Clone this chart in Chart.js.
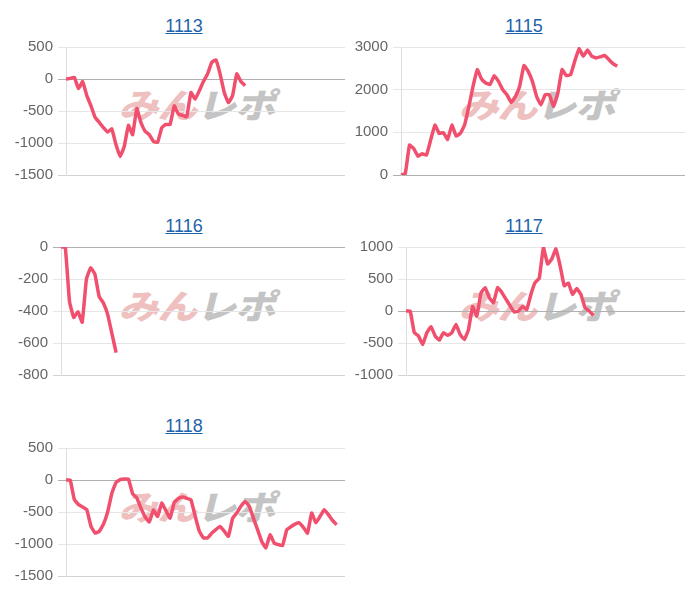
<!DOCTYPE html>
<html>
<head>
<meta charset="utf-8">
<script src="https://cdn.jsdelivr.net/npm/chart.js@4/dist/chart.umd.min.js"></script>
<style>
  html, body { margin: 0; padding: 0; background: #fff; }
  body { width: 700px; height: 600px; position: relative; overflow: hidden; font-family: "Liberation Sans", Arial, sans-serif; }
  .title { position: absolute; width: 200px; margin-left: -100px; text-align: center; font-size: 18px; line-height: 20px; }
  .title a { color: #1e64aa; text-decoration: underline; }
  .wm { position: absolute; white-space: nowrap; font-family: "Noto Sans CJK JP", sans-serif; font-weight: 900; font-size: 34px; line-height: 34px; transform: translate(-50%, -50%) skewX(-14deg) scaleX(1.18); letter-spacing: -1px; z-index: 0; }
  .wm .p { color: #efc0c0; }
  .wm .g { color: #c4c4c4; }
  canvas { position: absolute; z-index: 1; }
</style>
</head>
<body>
<div class="title" style="left:184px; top:16px;"><a href="#">1113</a></div>
<div class="title" style="left:524px; top:16px;"><a href="#">1115</a></div>
<div class="title" style="left:184px; top:216px;"><a href="#">1116</a></div>
<div class="title" style="left:524px; top:216px;"><a href="#">1117</a></div>
<div class="title" style="left:184px; top:416px;"><a href="#">1118</a></div>

<div class="wm" style="left:200px; top:104px;"><span class="p">みん</span><span class="g">レポ</span></div>
<div class="wm" style="left:540px; top:104px;"><span class="p">みん</span><span class="g">レポ</span></div>
<div class="wm" style="left:200px; top:305px;"><span class="p">みん</span><span class="g">レポ</span></div>
<div class="wm" style="left:540px; top:305px;"><span class="p">みん</span><span class="g">レポ</span></div>
<div class="wm" style="left:200px; top:506px;"><span class="p">みん</span><span class="g">レポ</span></div>

<canvas id="c1113" width="345" height="156" style="left:0px; top:37px;"></canvas>
<canvas id="c1115" width="335" height="156" style="left:350px; top:37px;"></canvas>
<canvas id="c1116" width="345" height="156" style="left:0px; top:237px;"></canvas>
<canvas id="c1117" width="335" height="156" style="left:350px; top:237px;"></canvas>
<canvas id="c1118" width="345" height="156" style="left:0px; top:438px;"></canvas>

<script>
// ---- data ----
const xLabels = [1,2,3,4,5,6,7,8,9,10,11,12,13,14,15,16,17,18,19,20,21,22,23,24,25,26,27,28,29,30,31,32,33,34,35,36,37,38,39,40,41,42,43,44,45,46,47,48,49,50,51,52,53,54,55,56,57,58,59,60,61,62,63,64,65,66,67,68];

const s1113 = [0,10,25,-150,-40,-260,-420,-600,-680,-760,-830,-780,-1025,-1210,-1050,-725,-870,-460,-680,-815,-870,-975,-990,-760,-710,-710,-420,-550,-570,-590,-210,-315,-185,-40,80,260,300,80,-210,-370,-260,80,-40,-105];
const s1115 = [0,30,700,620,440,500,465,820,1170,975,990,835,1170,915,975,1170,1600,2080,2470,2250,2155,2120,2330,2195,2000,1880,1700,1840,2080,2565,2430,2195,1840,1645,1880,1880,1605,1920,2470,2330,2350,2670,2960,2785,2930,2785,2745,2770,2800,2710,2610,2550];
const s1116 = [0,0,-340,-440,-405,-470,-200,-130,-170,-310,-350,-420,-540,-660];
const s1117 = [0,0,-340,-390,-525,-340,-245,-390,-455,-340,-380,-340,-210,-365,-445,-290,70,-80,280,365,210,130,365,290,185,80,-15,0,70,25,260,445,510,995,735,810,970,710,395,435,260,350,260,50,0,-70];
const s1118 = [0,0,-305,-385,-420,-465,-725,-830,-800,-690,-500,-210,-40,5,15,15,-215,-280,-440,-575,-655,-470,-570,-360,-480,-595,-350,-290,-265,-285,-310,-560,-800,-905,-905,-830,-775,-725,-800,-880,-600,-515,-410,-335,-410,-595,-775,-960,-1060,-855,-985,-1010,-1025,-780,-730,-690,-670,-740,-830,-515,-670,-570,-465,-540,-630,-700];

// y-axis ranges: [min, max, step]
const y1113 = [-1500, 500, 500];
const y1115 = [0, 3000, 1000];
const y1116 = [-800, 0, 200];
const y1117 = [-1000, 1000, 500];
const y1118 = [-1500, 500, 500];

const LINE = '#f0506e';

function makeChart(id, series, yr, axisWidth, plotTop, plotBottom) {
  const cv = document.getElementById(id);
  const chart = new Chart(cv, {
    type: 'line',
    data: {
      labels: xLabels,
      datasets: [{
        data: series,
        borderColor: LINE,
        backgroundColor: LINE,
        borderWidth: 3.5,
        pointRadius: 0,
        pointHoverRadius: 0,
        tension: 0.1,
        fill: false
      }]
    },
    options: {
      responsive: false,
      maintainAspectRatio: false,
      animation: false,
      events: [],
      layout: { padding: { top: 10, bottom: 10, left: 0, right: 0 } },
      plugins: { legend: { display: false }, tooltip: { enabled: false }, title: { display: false } },
      scales: {
        x: { display: false },
        y: {
          min: yr[0], max: yr[1],
          afterFit: s => { s.width = axisWidth; },
          ticks: {
            stepSize: yr[2],
            color: '#666',
            padding: 5,
            font: { family: '"Liberation Sans", Arial, sans-serif', size: 15 },
            callback: v => String(v)
          },
          grid: {
            color: c => (c.tick && c.tick.value === 0) ? '#b0b0b0' : (c.tick && c.tick.value === yr[0] ? '#d2d2d2' : '#e6e6e6'),
            lineWidth: 1
          },
          border: { color: '#dedede' }
        }
      }
    }
  });
  // fit the plot area to the wanted vertical span
  const want = plotBottom - plotTop;
  const have = chart.chartArea.bottom - chart.chartArea.top;
  if (Math.abs(want - have) > 0.5) {
    chart.resize(cv.width, Math.round(cv.height + (want - have)));
  }
  cv.style.top = (plotTop - chart.chartArea.top) + 'px';
}

makeChart('c1113', s1113, y1113, 66, 47, 175);
makeChart('c1115', s1115, y1115, 51, 47, 175);
makeChart('c1116', s1116, y1116, 61, 247, 375);
makeChart('c1117', s1117, y1117, 56, 247, 375);
makeChart('c1118', s1118, y1118, 66, 448, 576);
</script>
</body>
</html>
